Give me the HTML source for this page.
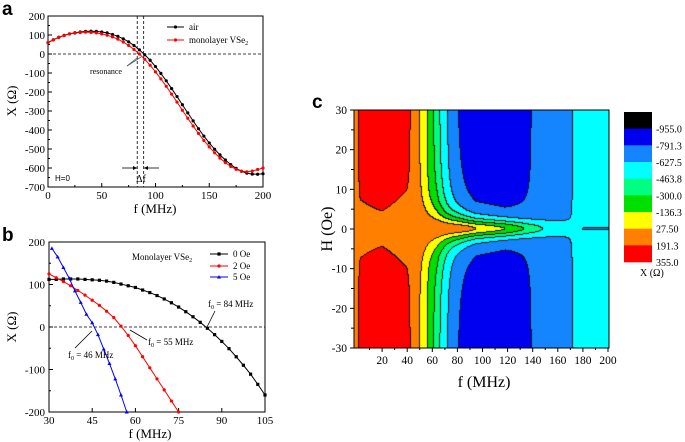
<!DOCTYPE html>
<html><head><meta charset="utf-8">
<style>
html,body{margin:0;padding:0;background:#fff;}
#wrap{position:relative;width:685px;height:442px;overflow:hidden;font-family:"Liberation Serif",serif;}
svg{position:absolute;left:0;top:0;}
canvas{position:absolute;left:354px;top:110px;}
</style></head>
<body>
<div id="wrap">
<canvas id="cmap" width="255" height="238"></canvas>
<svg id="svg" width="685" height="442" xmlns="http://www.w3.org/2000/svg"></svg>
</div>
<script>
// ---------- Panel a data ----------
const aFreq = [];
for (let f = 0; f <= 200; f += 5) aFreq.push(f);
const aAir = [60,75,88,98,106,112,116,119,120,119,116,111,103,93,80,64,45,22,-4,-33,-66,-102,-141,-182,-224,-267,-310,-352,-393,-432,-468,-501,-531,-558,-582,-602,-617,-627,-632,-633,-630];
const aVSe2 = [60,74,87,97,105,110,113,115,114,111,106,99,90,78,63,45,24,0,-28,-59,-94,-131,-170,-211,-253,-296,-338,-379,-418,-455,-489,-520,-548,-572,-592,-607,-617,-620,-616,-608,-600];
const aXTicks = [0,50,100,150,200];
const aYTicks = [200,100,0,-100,-200,-300,-400,-500,-600,-700];
const aResonance = [83,89];

// ---------- Panel b data ----------
const b0Freq = []; for (let f = 30; f <= 105; f += 2.5) b0Freq.push(f);
const b0Val = [112,112,113,113,113,112,111,110,108,105,101,97,93,87,81,74,66,57,47,36,24,11,-3,-18,-34,-51,-70,-90,-111,-135,-160];
const b2Freq = []; for (let f = 30; f <= 75; f += 2.5) b2Freq.push(f);
const b2Val = [125,116,107,97,86,75,63,51,37,22,2,-20,-44,-70,-96,-122,-148,-174,-200];
const b5Freq = []; for (let f = 31; f <= 57; f += 2) b5Freq.push(f);
const b5Val = [185,165,140,115,85,58,30,10,-18,-52,-86,-122,-160,-200];
const bXTicks = [30,45,60,75,90,105];
const bYTicks = [200,100,0,-100,-200];

// ---------- Panel c data ----------
const cLevels = [-955.0,-791.3,-627.5,-463.8,-300.0,-136.3,27.50,191.3,355.0];
const cLevelLabels = ["-955.0","-791.3","-627.5","-463.8","-300.0","-136.3","27.50","191.3","355.0"];
const cColors = ["#000000","#0000f0","#1585ff","#00ffff","#00ff80","#00e000","#ffff00","#ff8000","#ff0000"];
const cFreq   = [0,3,20,40,43,47,50,53,56,58,61,64,66,69,72,76,80,88,95,118,133,148,160,172,182,190,200];
const cFar    = [150,250,300,250,191,110,27,-50,-136,-220,-300,-380,-464,-540,-627,-710,-791,-850,-890,-900,-830,-740,-700,-627,-590,-560,-540];
const cCenter = [150,160,170,150,150,150,150,150,150,150,150,150,150,150,145,135,130,90,27,-136,-300,-464,-540,-600,-636,-640,-640];
const cWidth  = [10,10,10,11.8,10,8,6,5.4,5,4.8,4.5,4.2,4,3.6,3.3,3.1,3,2.6,2.4,2.2,2,1.8,1.8,1.5,0.6,0.5,0.5];
const cXTicks = [20,40,60,80,100,120,140,160,180,200];
const cYTicks = [30,20,10,0,-10,-20,-30];

const NS = "http://www.w3.org/2000/svg";
const svg = document.getElementById('svg');
function mk(tag, attrs, parent) {
  const e = document.createElementNS(NS, tag);
  for (const k in attrs) e.setAttribute(k, attrs[k]);
  (parent || svg).appendChild(e);
  return e;
}
function txt(x, y, s, size, anchor, parent, extra) {
  const t = mk('text', Object.assign({x:x, y:y, 'font-size':size, 'text-anchor':anchor||'middle', 'font-family':'"Liberation Serif",serif', fill:'#000'}, extra||{}), parent);
  t.textContent = s;
  return t;
}

// ================= Panel a =================
const xa = f => 48 + f * 215 / 200;
const ya = v => 16 + (200 - v) * 171 / 900;
const ga = mk('g', {});


let t = txt(2, 15, 'a', 19, 'start', ga, {'font-family':'"Liberation Sans",sans-serif','font-weight':'bold'});
 
let fr = mk('rect', {x:48, y:16, width:215, height:171, fill:'none', stroke:'#000', 'stroke-width':1}, ga);
 
aXTicks.forEach(v => {
  mk('line', {x1:xa(v), y1:187, x2:xa(v), y2:183, stroke:'#000'}, ga);
  const l = txt(xa(v), 199, String(v), 11, 'middle', ga);
   
});
for (let v = 25; v < 200; v += 50) mk('line', {x1:xa(v), y1:187, x2:xa(v), y2:185, stroke:'#000'}, ga);
aYTicks.forEach(v => {
  mk('line', {x1:48, y1:ya(v), x2:52, y2:ya(v), stroke:'#000'}, ga);
  const l = txt(45, ya(v) + 4, String(v), 11, 'end', ga);
   
});
for (let v = 150; v > -700; v -= 100) mk('line', {x1:48, y1:ya(v), x2:50, y2:ya(v), stroke:'#000'}, ga);
t = txt(155, 213, 'f (MHz)', 13, 'middle', ga);
 
t = txt(0, 0, 'X (Ω)', 13, 'middle', ga, {transform:'translate(16,101) rotate(-90)'});
 
let zl = mk('line', {x1:48, y1:ya(0), x2:263, y2:ya(0), stroke:'#000', 'stroke-dasharray':'3,2', 'stroke-width':0.8}, ga);
 
aResonance.forEach(f => {
  const l = mk('line', {x1:xa(f), y1:16, x2:xa(f), y2:187, stroke:'#000', 'stroke-dasharray':'3,2', 'stroke-width':0.8}, ga);
   
});
function series(xs, ys, color, g, name, xf, yf, marker) {
  const pts = xs.map((x, i) => xf(x) + ',' + yf(ys[i])).join(' ');
  const pl = mk('polyline', {points:pts, fill:'none', stroke:color, 'stroke-width':1}, g);
   
  xs.forEach((x, i) => {
    const cx = xf(x), cy = yf(ys[i]);
    let m;
    if (marker === 'sq') m = mk('rect', {x:cx-1.6, y:cy-1.6, width:3.2, height:3.2, fill:color}, g);
    else if (marker === 'tri') m = mk('polygon', {points:`${cx},${cy-2} ${cx-2},${cy+1.5} ${cx+2},${cy+1.5}`, fill:color}, g);
    else m = mk('circle', {cx:cx, cy:cy, r:1.6, fill:color}, g);
     
  });
}
series(aFreq, aAir, '#000', ga, 'air', xa, ya, 'c');
series(aFreq, aVSe2, '#ff0000', ga, 'vse2', xa, ya, 'c');
let lg = mk('g', {}, ga);  
mk('line', {x1:167, y1:27, x2:184, y2:27, stroke:'#000'}, lg); mk('circle', {cx:175.5, cy:27, r:1.6, fill:'#000'}, lg);
txt(189, 30, 'air', 9, 'start', lg);
mk('line', {x1:167, y1:40, x2:184, y2:40, stroke:'#ff0000'}, lg); mk('circle', {cx:175.5, cy:40, r:1.6, fill:'#ff0000'}, lg);
t = txt(189, 43, 'monolayer VSe', 9, 'start', lg); const sub = mk('tspan', {dy:2, 'font-size':6}, t); sub.textContent = '2';
let an = mk('g', {}, ga);  
txt(90, 74, 'resonance', 8, 'start', an);
mk('line', {x1:127, y1:66, x2:137, y2:58, stroke:'#555', 'stroke-width':0.8}, an);
mk('line', {x1:127, y1:66, x2:141, y2:57, stroke:'#555', 'stroke-width':0.8}, an);
mk('line', {x1:122, y1:168, x2:137, y2:168, stroke:'#000', 'stroke-width':0.8}, an);
mk('polygon', {points:'137,168 133,166 133,170', fill:'#000'}, an);
mk('line', {x1:144, y1:168, x2:159, y2:168, stroke:'#000', 'stroke-width':0.8}, an);
mk('polygon', {points:'144,168 148,166 148,170', fill:'#000'}, an);
txt(141, 182, 'Δf', 10, 'middle', an);
t = txt(55, 181, 'H=0', 8, 'start', ga, {'font-family':'"Liberation Sans",sans-serif'});
 

// ================= Panel b =================
const xb = f => 49 + (f - 30) * 216 / 75;
const yb = v => 242 + (200 - v) * 170 / 400;
const gb = mk('g', {});
 
t = txt(2, 241, 'b', 19, 'start', gb, {'font-family':'"Liberation Sans",sans-serif','font-weight':'bold'});
 
fr = mk('rect', {x:49, y:242, width:216, height:170, fill:'none', stroke:'#000'}, gb);
 
bXTicks.forEach(v => {
  mk('line', {x1:xb(v), y1:412, x2:xb(v), y2:408, stroke:'#000'}, gb);
  const l = txt(xb(v), 424, String(v), 11, 'middle', gb);
   
});
bYTicks.forEach(v => {
  mk('line', {x1:49, y1:yb(v), x2:53, y2:yb(v), stroke:'#000'}, gb);
  const l = txt(45, yb(v) + 4, String(v), 11, 'end', gb);
   
});
for (let v = 150; v > -200; v -= 100) mk('line', {x1:49, y1:yb(v), x2:51, y2:yb(v), stroke:'#000'}, gb);
t = txt(150, 438, 'f (MHz)', 13, 'middle', gb);
 
t = txt(0, 0, 'X (Ω)', 13, 'middle', gb, {transform:'translate(16,327) rotate(-90)'});
 
zl = mk('line', {x1:49, y1:yb(0), x2:265, y2:yb(0), stroke:'#000', 'stroke-dasharray':'3,2', 'stroke-width':0.8}, gb);
 
series(b0Freq, b0Val, '#000', gb, 'oe0', xb, yb, 'sq');
series(b2Freq, b2Val, '#ff0000', gb, 'oe2', xb, yb, 'c');
series(b5Freq, b5Val, '#0000ff', gb, 'oe5', xb, yb, 'tri');
lg = mk('g', {}, gb);  
t = txt(132, 260, 'Monolayer VSe', 9, 'start', lg); mk('tspan', {dy:2, 'font-size':6}, t).textContent = '2';
[['0 Oe','#000','sq',254],['2 Oe','#ff0000','c',266],['5 Oe','#0000ff','tri',277]].forEach(([s,c,m,y]) => {
  mk('line', {x1:210, y1:y, x2:228, y2:y, stroke:c}, lg);
  if (m === 'sq') mk('rect', {x:217.4, y:y-1.6, width:3.2, height:3.2, fill:c}, lg);
  else if (m === 'tri') mk('polygon', {points:`219,${y-2} 217,${y+1.5} 221,${y+1.5}`, fill:c}, lg);
  else mk('circle', {cx:219, cy:y, r:1.6, fill:c}, lg);
  txt(233, y + 3, s, 9, 'start', lg);
});
an = mk('g', {}, gb);  
function f0(x, y, s, ax1, ay1, ax2, ay2) {
  t = txt(x, y, 'f', 9, 'start', an); mk('tspan', {dy:2, 'font-size':6}, t).textContent = '0';
  mk('tspan', {dy:-2}, t).textContent = ' = ' + s;
  mk('line', {x1:ax1, y1:ay1, x2:ax2, y2:ay2, stroke:'#000', 'stroke-width':0.8}, an);
}
f0(208, 307, '84 MHz', 215, 311, 207, 327);
f0(148, 345, '55 MHz', 147, 340, 130, 330);
f0(68, 358, '46 MHz', 75, 348, 92, 331);

// ================= Panel c =================
const xc = f => 357 + f * 251 / 200;
const yc = h => 110 + (30 - h) * 238 / 60;
const gc = mk('g', {});
 
t = txt(312, 108, 'c', 19, 'start', gc, {'font-family':'"Liberation Sans",sans-serif','font-weight':'bold'});
 
function interp(xs, ys, x) {
  if (x <= xs[0]) return ys[0];
  for (let i = 1; i < xs.length; i++) if (x <= xs[i]) { const r = (x - xs[i-1]) / (xs[i] - xs[i-1]); return ys[i-1] + r * (ys[i] - ys[i-1]); }
  return ys[ys.length - 1];
}
function band(z) { let k = 0; while (k < cLevels.length && z > cLevels[k]) k++; return Math.min(k, 8); }
(function drawMap() {
  const cv = document.getElementById('cmap'), ctx = cv.getContext('2d');
  const W = 255, H = 238, img = ctx.createImageData(W, H);
  const bands = new Array(W * H);
  const rgb = cColors.map(c => [parseInt(c.substr(1,2),16), parseInt(c.substr(3,2),16), parseInt(c.substr(5,2),16)]);
  for (let py = 0; py < H; py++) for (let px = 0; px < W; px++) {
    const f = (354 + px + 0.5 - 357) * 200 / 251;
    const h = 30 - (py + 0.5) * 60 / 238;
    const zf = interp(cFreq, cFar, f), zc = interp(cFreq, cCenter, f), w = interp(cFreq, cWidth, f);
    const r = h / w;
    const z = zf + (zc - zf) / (1 + r * r);
    bands[py * W + px] = band(z);
  }
  for (let py = 0; py < H; py++) for (let px = 0; px < W; px++) {
    const b = bands[py * W + px];
    let c = rgb[b];
    if ((px + 1 < W && bands[py * W + px + 1] !== b) || (py + 1 < H && bands[(py + 1) * W + px] !== b)) c = [20, 20, 20];
    const o = (py * W + px) * 4;
    img.data[o] = c[0]; img.data[o+1] = c[1]; img.data[o+2] = c[2]; img.data[o+3] = 255;
  }
  ctx.putImageData(img, 0, 0);
})();
fr = mk('rect', {x:354, y:110, width:255, height:238, fill:'none', stroke:'#000'}, gc);
 
cXTicks.forEach(v => {
  mk('line', {x1:xc(v), y1:348, x2:xc(v), y2:352, stroke:'#000'}, gc);
  const l = txt(xc(v), 364, String(v), 11.5, 'middle', gc);
   
});
for (let v = 10; v < 200; v += 20) mk('line', {x1:xc(v), y1:348, x2:xc(v), y2:350, stroke:'#000'}, gc);
cYTicks.forEach(v => {
  mk('line', {x1:350, y1:yc(v), x2:354, y2:yc(v), stroke:'#000'}, gc);
  const l = txt(347, yc(v) + 4, String(v), 11.5, 'end', gc);
   
});
for (let v = 25; v > -30; v -= 5) if (v % 10) mk('line', {x1:351, y1:yc(v), x2:354, y2:yc(v), stroke:'#000'}, gc);
t = txt(484, 387, 'f (MHz)', 16, 'middle', gc);
 
t = txt(0, 0, 'H (Oe)', 16, 'middle', gc, {transform:'translate(332,229) rotate(-90)'});
 
const cb = mk('g', {}, gc);  
const bh = 150 / cColors.length;
cColors.forEach((c, i) => {
  const r = mk('rect', {x:624, y:112 + i * bh, width:28, height:bh + 0.3, fill:c}, cb);
   
});
cLevelLabels.forEach((s, i) => {
  const l = txt(656, 112 + (i + 1) * bh + 4, s, 10, 'start', cb);
   
});
t = txt(640, 276, 'X (Ω)', 10, 'start', cb);
 
</script>
</body></html>
